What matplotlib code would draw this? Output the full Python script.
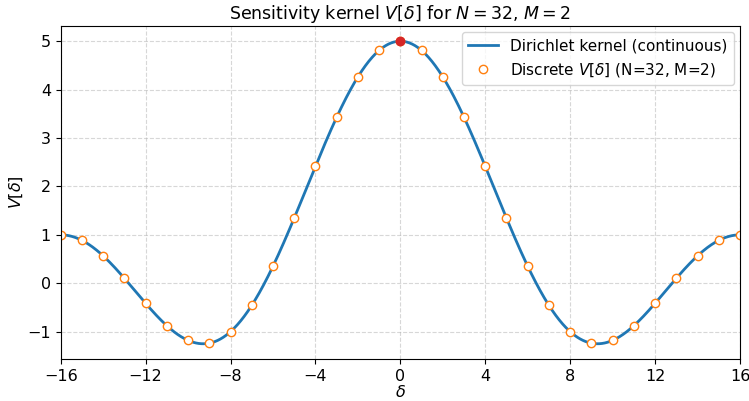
import numpy as np
import matplotlib
matplotlib.use("Agg")
import matplotlib.pyplot as plt

# kernel parameters (from the title)
N = 32
M = 2

# discrete samples, delta = -16 .. 16
delta = np.arange(-16, 17)
v_discrete = [1.00, 0.886, 0.566, 0.102, -0.414, -0.877, -1.180, -1.238,
              -1.00, -0.458, 0.351, 1.346, 2.414, 3.428, 4.262, 4.809,
              5.00,
              4.809, 4.262, 3.428, 2.414, 1.346, 0.351, -0.458, -1.00,
              -1.238, -1.180, -0.877, -0.414, 0.102, 0.566, 0.886, 1.00]

# continuous Dirichlet kernel: sum_{m=-M}^{M} cos(2 pi m d / N)
d_cont = np.linspace(-16, 16, 1000)
v_cont = sum(np.cos(2 * np.pi * m * d_cont / N) for m in range(-M, M + 1))

x_ticks = [-16, -12, -8, -4, 0, 4, 8, 12, 16]

fig, ax = plt.subplots(figsize=(7.49, 4.01), dpi=100)
fig.subplots_adjust(left=0.081, right=0.988, top=0.935, bottom=0.105)

ax.plot(d_cont, v_cont, color='tab:blue', lw=2, label='Dirichlet kernel (continuous)')
ax.plot(delta, v_discrete, 'o', ms=6, mfc='white', mec='tab:orange', mew=1,
        label=r'Discrete $V[\delta]$ (N=32, M=2)')
ax.plot([0], [v_discrete[16]], 'o', ms=6, color='tab:red', zorder=5)

ax.set_xlim(-16, 16)
ax.set_xticks(x_ticks)
ax.grid(True, ls='--', alpha=0.5)
ax.set_xlabel(r'$\delta$', fontsize=11.5, labelpad=0)
ax.set_ylabel(r'$V[\delta]$', fontsize=11.5, labelpad=2)
ax.set_title(r'Sensitivity kernel $V[\delta]$ for $N=32$, $M=2$', fontsize=12.5, pad=5)
ax.tick_params(labelsize=11.5)
ax.legend(loc='upper right', fontsize=11, borderaxespad=0.4)

fig.savefig('out.png', dpi=100)
